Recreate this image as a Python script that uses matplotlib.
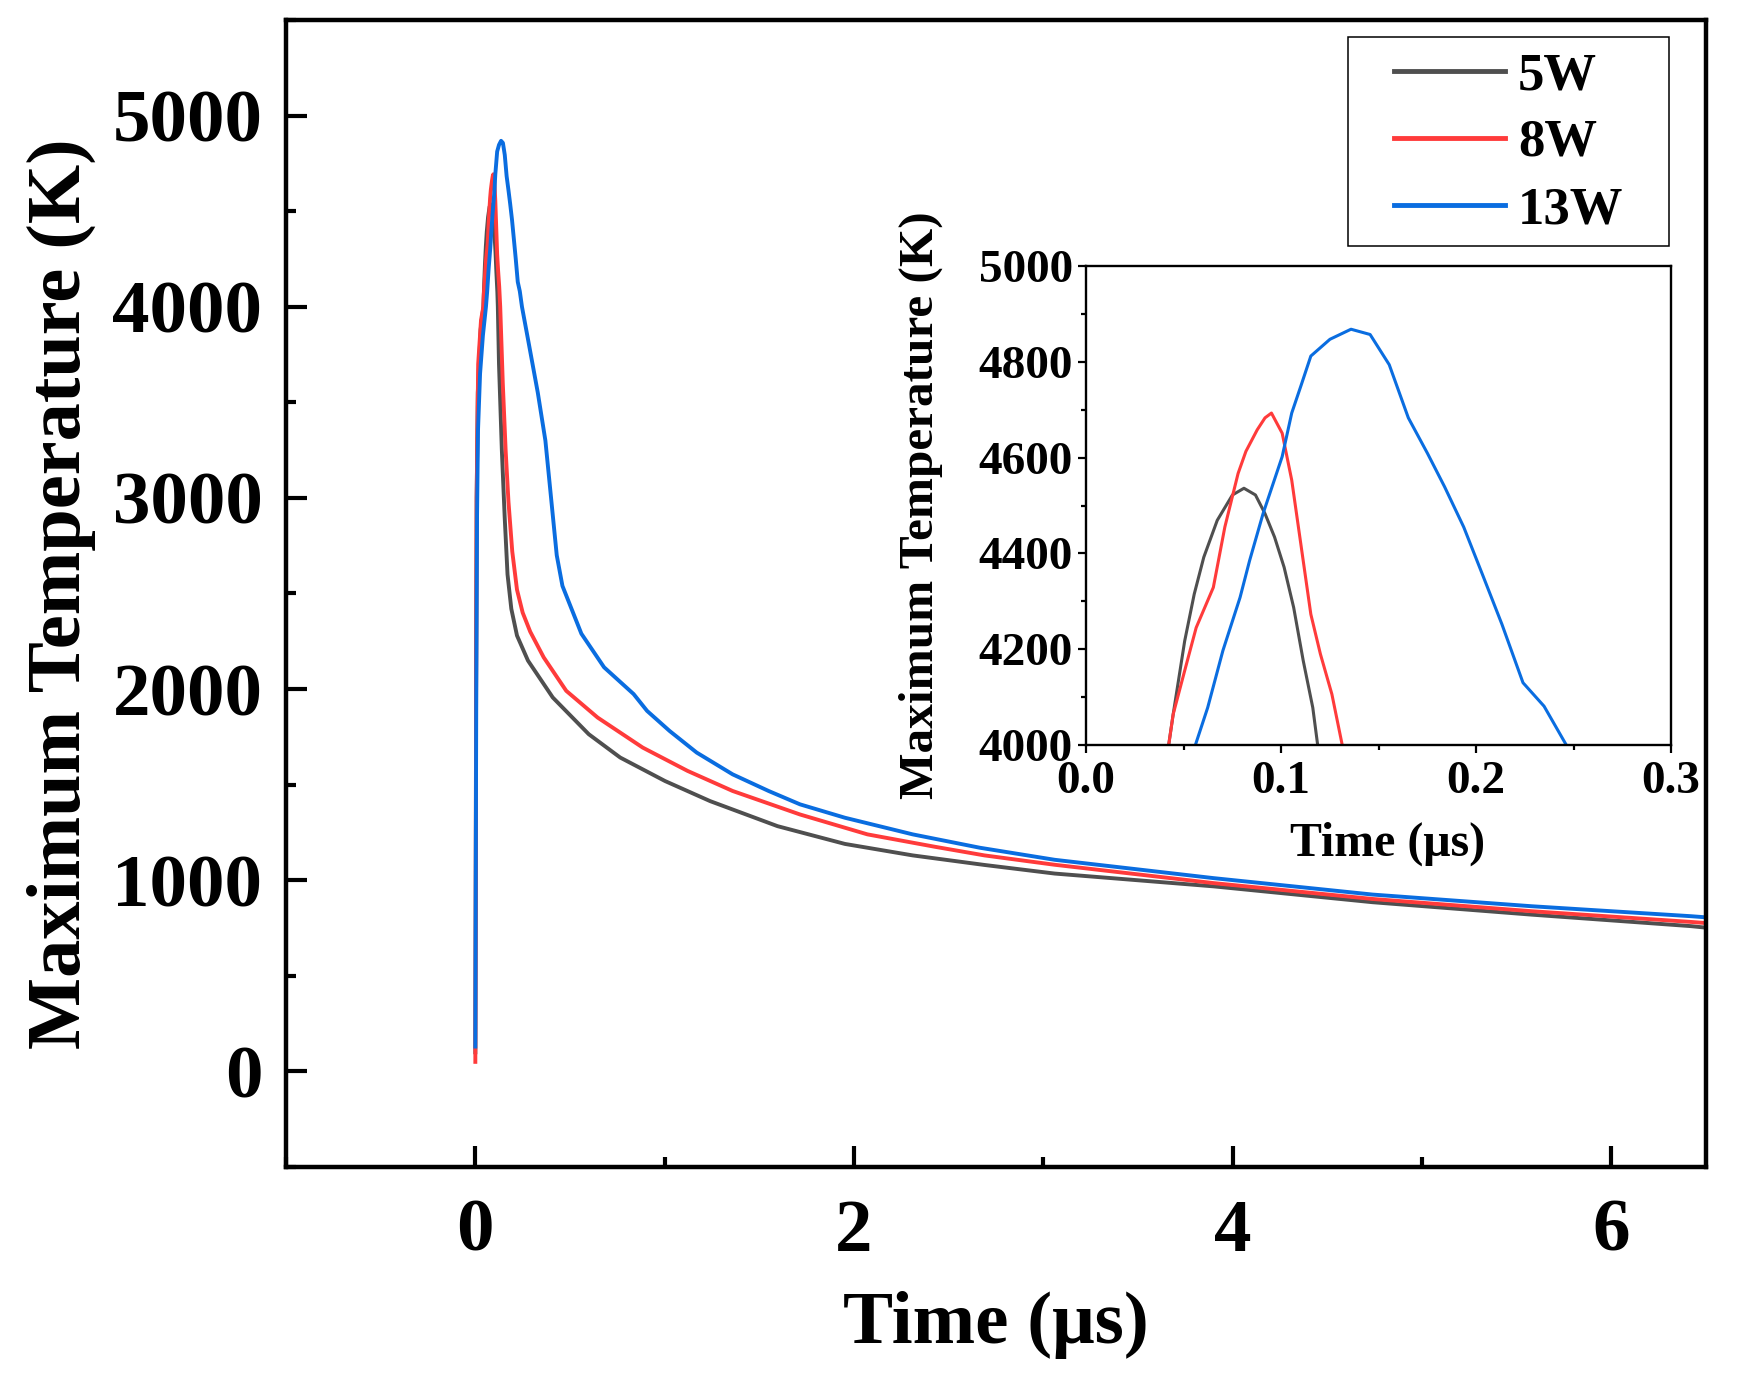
import matplotlib
matplotlib.use("Agg")
import matplotlib.pyplot as plt
from matplotlib.patches import Rectangle
from matplotlib.ticker import MultipleLocator, FormatStrFormatter

plt.rcParams['font.family'] = ['Liberation Serif', 'DejaVu Serif']
plt.rcParams['font.weight'] = 'bold'
plt.rcParams['axes.labelweight'] = 'bold'

# ---------------- data (time in µs, temperature in K) ----------------
labels = ["5W", "8W", "13W"]
colors = ["#4f4f4f", "#ff3b3b", "#0a6de0"]

t_5w = [0.0, 0.002, 0.004, 0.007, 0.013, 0.028, 0.0424, 0.0447, 0.0506, 0.0555,
        0.0604, 0.0673, 0.0751, 0.081, 0.0869, 0.0918, 0.0967, 0.1016, 0.1065,
        0.1114, 0.1163, 0.1188, 0.125, 0.14, 0.155, 0.17, 0.19, 0.22, 0.278,
        0.409, 0.599, 0.765, 1.002, 1.24, 1.596, 1.952, 2.31, 2.689, 3.06,
        3.9, 4.74, 5.58, 6.42, 6.5]
T_5w = [100, 900, 2000, 3000, 3550, 3880, 4000, 4064, 4217, 4315,
        4392, 4469, 4522, 4536, 4522, 4483, 4434, 4371, 4287,
        4176, 4078, 4000, 3700, 3250, 2900, 2600, 2420, 2280, 2149,
        1956, 1764, 1642, 1519, 1414, 1283, 1190, 1130, 1080, 1035,
        968, 885, 820, 760, 752]

t_8w = [0.0, 0.002, 0.004, 0.007, 0.015, 0.03, 0.0424, 0.0447, 0.0506, 0.0565,
        0.0653, 0.0712, 0.078, 0.082, 0.0878, 0.0918, 0.0951, 0.1006, 0.1055,
        0.1104, 0.1153, 0.1202, 0.1261, 0.1314, 0.145, 0.16, 0.175, 0.195,
        0.22, 0.25, 0.29, 0.361, 0.48, 0.646, 0.884, 1.121, 1.359, 1.715,
        2.071, 2.428, 2.689, 3.06, 3.9, 4.74, 5.58, 6.42, 6.5]
T_8w = [50, 800, 2000, 3000, 3700, 3930, 4000, 4064, 4155, 4245,
        4329, 4455, 4567, 4613, 4658, 4683, 4693, 4651, 4553,
        4413, 4273, 4190, 4106, 4000, 3600, 3250, 2980, 2720,
        2520, 2400, 2300, 2166, 1991, 1851, 1694, 1572, 1467, 1344,
        1240, 1175, 1130, 1081, 985, 902, 838, 782, 776]

t_13w = [0.0, 0.002, 0.005, 0.009, 0.014, 0.025, 0.04, 0.0561, 0.0624, 0.0702,
         0.079, 0.0839, 0.0908, 0.1006, 0.1055, 0.1104, 0.1153, 0.1251, 0.1359,
         0.1457, 0.1555, 0.1653, 0.1751, 0.1839, 0.1937, 0.2035, 0.2133,
         0.2241, 0.2349, 0.2463, 0.28, 0.33, 0.37, 0.40, 0.43, 0.46, 0.50,
         0.56, 0.68, 0.836, 0.907, 1.026, 1.169, 1.359, 1.549, 1.715, 1.952,
         2.31, 2.665, 3.06, 3.9, 4.74, 5.58, 6.42, 6.5]
T_13w = [130, 900, 2000, 2900, 3350, 3650, 3850, 4000, 4078, 4197,
         4308, 4385, 4483, 4602, 4693, 4752, 4812, 4847, 4868,
         4857, 4794, 4683, 4609, 4539, 4455, 4354, 4252,
         4130, 4081, 4000, 3820, 3550, 3300, 3000, 2700, 2540, 2440,
         2290, 2114, 1974, 1886, 1781, 1668, 1554, 1467, 1397, 1327,
         1240, 1170, 1107, 1011, 925, 864, 812, 806]

series_t = [t_5w, t_8w, t_13w]
series_T = [T_5w, T_8w, T_13w]

# axis ticks
main_xticks = [0, 2, 4, 6]
main_yticks = [0, 1000, 2000, 3000, 4000, 5000]
inset_xticks = [0.0, 0.1, 0.2, 0.3]
inset_yticks = [4000, 4200, 4400, 4600, 4800, 5000]

# ---------------- figure ----------------
W, H = 1737, 1385
fig = plt.figure(figsize=(W / 100, H / 100), dpi=100)

ax = fig.add_axes([286 / W, 1 - 1167 / H, (1706 - 286) / W, (1167 - 20) / H])
for tt, TT, c, lab in zip(series_t, series_T, colors, labels):
    ax.plot(tt, TT, color=c, lw=2.8, label=lab)

ax.set_xlim(-1, 6.5)
ax.set_ylim(-500, 5500)
ax.set_xticks(main_xticks)
ax.set_yticks(main_yticks)
ax.xaxis.set_minor_locator(MultipleLocator(1))
ax.yaxis.set_minor_locator(MultipleLocator(500))
for s in ax.spines.values():
    s.set_linewidth(3.2)
ax.tick_params(which='both', direction='in', top=False, right=False,
               width=3.0, labelsize=54)
ax.tick_params(which='major', length=15)
ax.tick_params(which='minor', length=7.5)
ax.tick_params(axis='y', pad=17)
ax.tick_params(axis='x', pad=23)
ax.set_xlabel("Time (μs)", fontsize=54, fontweight='bold')
ax.set_ylabel("Maximum Temperature (K)", fontsize=55, fontweight='bold')
ax.yaxis.set_label_coords(-0.134, 0.5)
ax.xaxis.set_label_coords(0.5, -0.108)

# legend: entries placed without frame, frame drawn as a figure-level box
leg = ax.legend(loc='upper left', bbox_to_anchor=(1394 / W, 1 - 52 / H),
                bbox_transform=fig.transFigure, prop={'size': 38, 'weight': 'bold'},
                handlelength=2.1, handletextpad=0.25, borderpad=0.0,
                borderaxespad=0.0, labelspacing=0.36, frameon=False)
for l in leg.get_lines():
    l.set_linewidth(3.5)
fig.patches.append(Rectangle((1348 / W, 1 - 246 / H), (1669 - 1348) / W, (246 - 37) / H,
                             transform=fig.transFigure, fill=False,
                             edgecolor='black', linewidth=1.1, zorder=5))

# ---------------- inset ----------------
axi = fig.add_axes([1086 / W, 1 - 745 / H, (1671 - 1086) / W, (745 - 266) / H])
for tt, TT, c in zip(series_t, series_T, colors):
    axi.plot(tt, TT, color=c, lw=2.2)
axi.set_xlim(0, 0.3)
axi.set_ylim(4000, 5000)
axi.set_xticks(inset_xticks)
axi.set_yticks(inset_yticks)
axi.xaxis.set_major_formatter(FormatStrFormatter('%.1f'))
axi.xaxis.set_minor_locator(MultipleLocator(0.05))
axi.yaxis.set_minor_locator(MultipleLocator(100))
for s in axi.spines.values():
    s.set_linewidth(1.7)
axi.tick_params(which='both', direction='out', top=False, right=False,
                width=1.6, labelsize=34, pad=4)
axi.tick_params(axis='x', pad=6)
axi.tick_params(which='major', length=5.5)
axi.tick_params(which='minor', length=3.5)
axi.set_xlabel("Time (μs)", fontsize=34.5, fontweight='bold')
axi.set_ylabel("Maximum Temperature (K)", fontsize=35.5, fontweight='bold')
axi.yaxis.set_label_coords(-0.245, 0.5)
axi.xaxis.set_label_coords(0.515, -0.16)

fig.savefig("out.png", dpi=100)
